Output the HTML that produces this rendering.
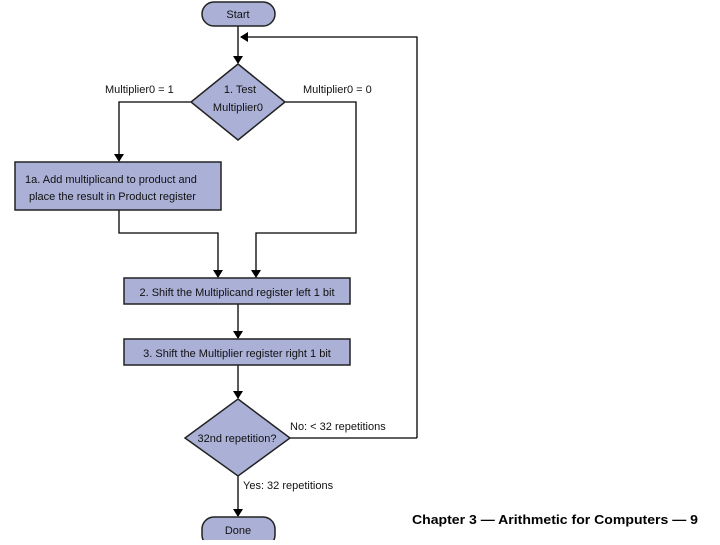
<!DOCTYPE html>
<html><head><style>
body{margin:0;background:#fff;width:720px;height:540px;overflow:hidden}
</style></head><body>
<svg width="720" height="540" xmlns="http://www.w3.org/2000/svg" font-family="Liberation Sans, sans-serif" font-size="11">
<defs><marker id="a" markerWidth="8" markerHeight="10" refX="7" refY="5" orient="auto" markerUnits="userSpaceOnUse"><path d="M0,0 L8,5 L0,10 z" fill="#000"/></marker></defs>
<g stroke="#000" stroke-width="1.3" fill="none">
<path d="M238 26 V63" marker-end="url(#a)"/>
<path d="M417 438 V37 H241" marker-end="url(#a)"/>
<path d="M191 102 H119 V161" marker-end="url(#a)"/>
<path d="M285 102 H356 V233 H256 V277" marker-end="url(#a)"/>
<path d="M119 210 V233 H218 V277" marker-end="url(#a)"/>
<path d="M238 304 V338" marker-end="url(#a)"/>
<path d="M238 365 V398" marker-end="url(#a)"/>
<path d="M290 438 H417"/>
<path d="M238 476 V516" marker-end="url(#a)"/>
</g>
<g fill="#aab0d6" stroke="#222" stroke-width="1.5">
<rect x="202" y="2" width="73" height="24" rx="12"/>
<path d="M238 64 L285 102 L238 140 L191 102 z"/>
<rect x="15" y="162" width="206" height="48"/>
<rect x="124" y="278" width="226" height="26"/>
<rect x="124" y="339" width="226" height="26"/>
<path d="M238 399 L290 438 L238 476 L185 438 z"/>
<rect x="202" y="517" width="73" height="30" rx="12"/>
</g>
<g fill="#111">
<text x="238" y="18" text-anchor="middle">Start</text>
<text x="240" y="93" text-anchor="middle">1.  Test</text>
<text x="238" y="111" text-anchor="middle">Multiplier0</text>
<text x="105" y="93">Multiplier0 = 1</text>
<text x="303" y="93">Multiplier0 = 0</text>
<text x="25" y="183">1a.  Add multiplicand to product and</text>
<text x="29" y="200">place the result in Product register</text>
<text x="237" y="296" text-anchor="middle">2.  Shift the Multiplicand register left 1 bit</text>
<text x="237" y="357" text-anchor="middle">3.  Shift the Multiplier register right 1 bit</text>
<text x="237" y="442" text-anchor="middle">32nd repetition?</text>
<text x="290" y="430">No: &lt; 32 repetitions</text>
<text x="243" y="489">Yes: 32 repetitions</text>
<text x="238" y="534" text-anchor="middle">Done</text>
<text x="412" y="524" font-size="13" font-weight="bold" textLength="286" lengthAdjust="spacingAndGlyphs" fill="#000">Chapter 3 — Arithmetic for Computers — 9</text>
</g>
</svg>
</body></html>
